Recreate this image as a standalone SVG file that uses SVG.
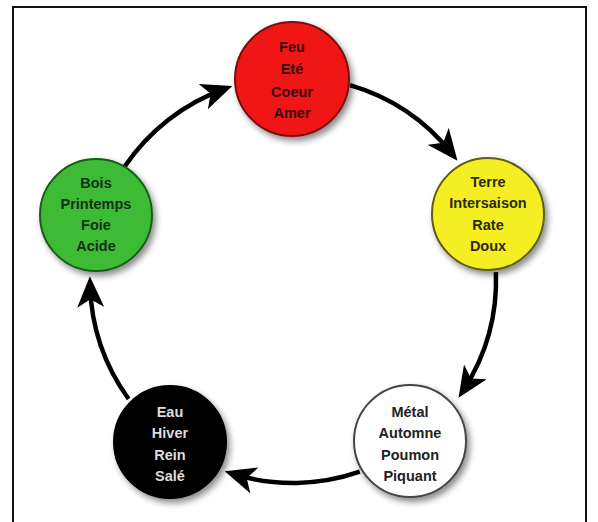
<svg xmlns="http://www.w3.org/2000/svg" width="598" height="522" viewBox="0 0 598 522">
<style>
.node text{font-family:"Liberation Sans",Arial,sans-serif;font-weight:bold;font-size:14.5px;text-anchor:middle}
.conn path{fill:none;stroke:#000;stroke-width:4.5;marker-end:url(#ah)}
.c{stroke-width:2}
</style>
<defs>
<filter id="sh" x="-20%" y="-20%" width="150%" height="150%">
<feDropShadow dx="3" dy="4" stdDeviation="3" flood-color="#000" flood-opacity="0.45"/>
</filter>
<marker id="ah" markerUnits="userSpaceOnUse" viewBox="0 0 31 27" markerWidth="31" markerHeight="27" refX="22" refY="13.5" orient="auto">
<path d="M0,0 L31,13.5 L0,27 L8,13.5 Z" fill="#000"/>
</marker>
</defs>
<rect width="598" height="522" fill="#fff"/>
<rect x="13" y="7" width="573" height="530" fill="none" stroke="#111" stroke-width="2"/>
<g id="connectors" class="conn">
<path d="M350,85.2 A203,203 0 0 1 451.9,153.6"/>
<path d="M495.9,272.2 A203,203 0 0 1 463.4,390.3"/>
<path d="M359.8,471.7 A203,203 0 0 1 233.3,474"/>
<path d="M128.6,399 A203,203 0 0 1 90.1,285.3"/>
<path d="M124.7,166.5 A203,203 0 0 1 223.9,89.1"/>
</g>
<g id="feu" class="node">
<circle class="c" cx="292" cy="79" r="57" fill="#f01414" stroke="#7a1010" filter="url(#sh)"/>
<text x="292" y="52" fill="#3a0a0a">Feu</text>
<text x="292" y="74" fill="#3a0a0a">Eté</text>
<text x="292" y="97" fill="#3a0a0a">Coeur</text>
<text x="292" y="118" fill="#3a0a0a">Amer</text>
</g>
<g id="terre" class="node">
<circle class="c" cx="488" cy="214" r="56" fill="#f4ee22" stroke="#5e5c16" filter="url(#sh)"/>
<text x="488" y="187" fill="#2a2a10">Terre</text>
<text x="488" y="208" fill="#2a2a10">Intersaison</text>
<text x="488" y="230" fill="#2a2a10">Rate</text>
<text x="488" y="251" fill="#2a2a10">Doux</text>
</g>
<g id="metal" class="node">
<circle class="c" cx="410" cy="441" r="56" fill="#fff" stroke="#444" filter="url(#sh)"/>
<text x="410" y="417" fill="#222">Métal</text>
<text x="410" y="438" fill="#222">Automne</text>
<text x="410" y="460" fill="#222">Poumon</text>
<text x="410" y="481" fill="#222">Piquant</text>
</g>
<g id="eau" class="node">
<circle class="c" cx="170" cy="442" r="56" fill="#000" stroke="#000" filter="url(#sh)"/>
<text x="170" y="417" fill="#ddd">Eau</text>
<text x="170" y="438" fill="#ddd">Hiver</text>
<text x="170" y="460" fill="#ddd">Rein</text>
<text x="170" y="481" fill="#ddd">Salé</text>
</g>
<g id="bois" class="node">
<circle class="c" cx="96" cy="215" r="56" fill="#3dbb34" stroke="#1d5a1d" filter="url(#sh)"/>
<text x="96" y="188" fill="#153015">Bois</text>
<text x="96" y="209" fill="#153015">Printemps</text>
<text x="96" y="230" fill="#153015">Foie</text>
<text x="96" y="251" fill="#153015">Acide</text>
</g>
</svg>
